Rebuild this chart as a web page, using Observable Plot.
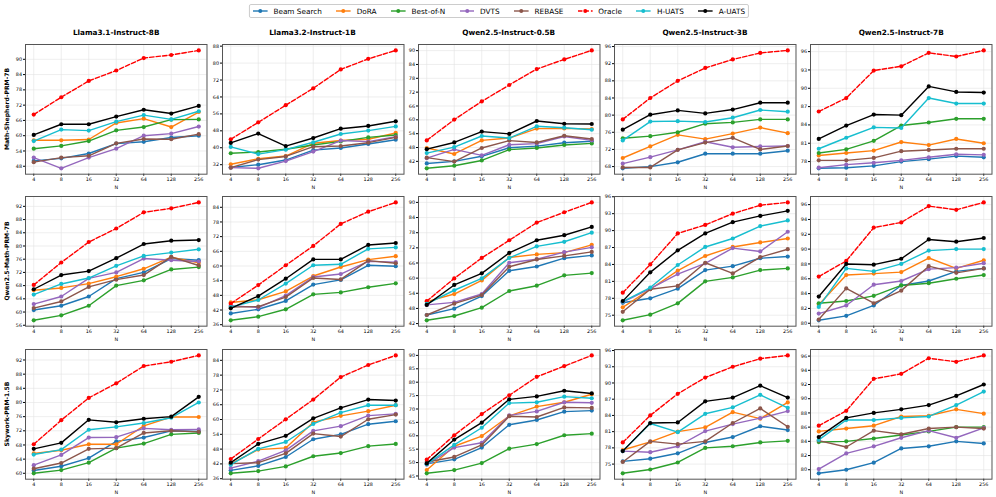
<!DOCTYPE html>
<html>
<head>
<meta charset="utf-8">
<script src="https://cdn.jsdelivr.net/npm/d3@7"></script>
<script src="https://cdn.jsdelivr.net/npm/@observablehq/plot@0.6"></script>
<style>
  html, body { margin: 0; padding: 0; background: #fff; }
  #root { position: relative; width: 996px; height: 497px; overflow: hidden; font-family: "DejaVu Sans", sans-serif; color: #000; }
  .panel { position: absolute; }
  .ctitle { position: absolute; font-weight: bold; font-size: 7.3px; white-space: nowrap; transform: translate(-50%, -50%); }
  .rlabel { position: absolute; font-weight: bold; font-size: 6.1px; white-space: nowrap; transform: translate(-50%, -50%) rotate(-90deg); }
  #legend { position: absolute; top: 4px; left: 499px; transform: translateX(-50%); height: 12px; border: 1px solid #cccccc; border-radius: 2px; display: flex; align-items: center; padding: 0 3px; font-size: 7.3px; white-space: nowrap; background: #fff; }
  .item { display: flex; align-items: center; margin-right: 14.4px; }
  .item:last-child { margin-right: 0; }
  .item svg { margin-right: 5.8px; }
</style>
</head>
<body>
<div id="root"><div id="legend"></div></div>
<script>
// ---------- categories / labels ----------
const models = ["Llama3.1-Instruct-8B", "Llama3.2-Instruct-1B", "Qwen2.5-Instruct-0.5B", "Qwen2.5-Instruct-3B", "Qwen2.5-Instruct-7B"];
const prms = ["Math-Shepherd-PRM-7B", "Qwen2.5-Math-PRM-7B", "Skywork-PRM-1.5B"];
const Ns = [4, 8, 16, 32, 64, 128, 256];
const methods = ["Beam Search", "DoRA", "Best-of-N", "DVTS", "REBASE", "Oracle", "H-UATS", "A-UATS"];
const colors = ["#1f77b4", "#ff7f0e", "#2ca02c", "#9467bd", "#8c564b", "#ff0000", "#17becf", "#000000"];

// ---------- series values: each panel = rows in `methods` order, columns in `Ns` order ----------
// Row 1: Math-Shepherd-PRM-7B
const shepherd_llama8b = [
  [50.1, 51.1, 53.0, 56.9, 57.6, 59.3, 60.0],
  [58.2, 58.2, 58.5, 65.0, 66.7, 63.4, 69.3],
  [54.9, 56.0, 57.9, 62.1, 63.4, 66.3, 66.4],
  [51.4, 47.2, 51.4, 54.9, 60.0, 60.8, 63.6],
  [49.6, 51.4, 52.1, 57.0, 58.7, 58.6, 60.6],
  [68.3, 75.1, 81.5, 85.6, 90.5, 91.7, 93.5],
  [57.9, 62.4, 62.0, 65.5, 68.1, 66.4, 69.6],
  [60.3, 64.5, 64.5, 67.5, 70.2, 68.7, 71.7]
];
const shepherd_llama1b = [
  [30.7, 32.0, 34.2, 38.9, 39.9, 41.8, 43.8],
  [32.2, 34.8, 36.1, 42.1, 43.4, 44.0, 47.0],
  [37.4, 38.0, 39.3, 41.3, 43.0, 44.9, 46.0],
  [30.6, 30.3, 33.7, 38.2, 43.4, 42.9, 45.2],
  [30.6, 34.4, 35.9, 40.5, 40.8, 42.4, 44.9],
  [44.0, 52.0, 60.1, 68.1, 77.0, 82.0, 86.0],
  [40.4, 37.0, 39.1, 42.6, 46.5, 48.1, 50.1],
  [42.3, 46.7, 40.8, 44.6, 49.0, 50.3, 52.5]
];
const shepherd_qwen05b = [
  [41.1, 42.0, 44.2, 47.9, 48.6, 50.1, 50.7],
  [47.8, 45.2, 51.1, 52.1, 56.2, 56.3, 56.0],
  [39.0, 40.1, 42.4, 47.1, 47.8, 49.1, 49.8],
  [43.4, 47.2, 44.6, 49.2, 49.7, 52.8, 51.1],
  [43.6, 41.9, 47.8, 51.0, 50.2, 53.1, 51.7],
  [51.1, 60.1, 68.0, 75.1, 82.0, 86.2, 90.1],
  [45.6, 48.2, 53.0, 52.1, 57.2, 56.6, 55.7],
  [47.3, 50.2, 54.9, 53.9, 59.5, 58.3, 58.2]
];
const shepherd_qwen3b = [
  [67.6, 68.0, 69.0, 71.0, 71.0, 71.0, 71.7],
  [70.0, 72.7, 75.4, 74.4, 75.7, 77.1, 75.8],
  [74.6, 75.1, 76.0, 78.0, 78.3, 79.0, 79.0],
  [68.7, 70.2, 71.9, 73.8, 72.5, 72.7, 72.8],
  [67.8, 67.8, 71.9, 73.6, 74.7, 72.0, 72.8],
  [79.0, 84.0, 88.0, 91.0, 93.0, 94.5, 95.1],
  [74.1, 78.5, 78.6, 78.4, 79.4, 81.2, 80.8],
  [76.6, 80.1, 81.1, 80.4, 81.3, 82.9, 82.9]
];
const shepherd_qwen7b = [
  [76.9, 77.0, 77.3, 78.0, 78.4, 78.9, 78.7],
  [79.0, 79.4, 79.8, 81.2, 80.7, 81.7, 81.0],
  [79.4, 80.0, 81.4, 83.9, 84.4, 85.0, 85.0],
  [77.0, 77.5, 77.8, 78.2, 78.7, 79.2, 79.1],
  [78.2, 78.2, 78.6, 79.7, 79.9, 80.1, 80.1],
  [86.2, 88.4, 92.9, 93.6, 95.8, 95.2, 96.2],
  [80.1, 81.9, 83.6, 83.5, 88.4, 87.5, 87.5],
  [81.7, 83.9, 85.7, 85.6, 90.3, 89.4, 89.3]
];
// Row 2: Qwen2.5-Math-PRM-7B
const qprm_llama8b = [
  [60.6, 61.9, 64.7, 70.1, 72.0, 76.2, 75.7],
  [66.6, 67.3, 68.6, 70.7, 73.1, 76.6, 74.9],
  [57.5, 59.0, 61.9, 68.0, 69.6, 72.9, 73.6],
  [62.4, 64.7, 70.2, 72.0, 76.2, 75.7, 75.3],
  [61.2, 63.2, 67.6, 69.8, 71.2, 76.7, 74.1],
  [68.2, 75.0, 81.2, 85.3, 90.2, 91.4, 93.2],
  [65.3, 68.5, 70.3, 74.0, 77.0, 78.0, 79.0],
  [66.9, 71.2, 72.4, 76.3, 80.6, 81.6, 81.8]
];
const qprm_llama1b = [
  [40.6, 42.3, 45.7, 52.4, 54.3, 60.3, 59.9],
  [45.1, 46.2, 49.6, 55.9, 59.6, 62.6, 64.0],
  [37.8, 39.3, 42.3, 48.4, 49.2, 51.3, 52.9],
  [43.8, 43.0, 47.9, 55.5, 56.7, 61.9, 61.6],
  [43.2, 43.4, 47.3, 55.1, 54.5, 62.2, 61.1],
  [44.6, 52.2, 60.3, 68.2, 77.2, 82.2, 86.0],
  [43.2, 46.1, 52.8, 60.3, 60.7, 67.0, 67.6],
  [42.7, 47.7, 54.8, 62.7, 62.7, 68.6, 69.4]
];
const qprm_qwen05b = [
  [45.4, 47.9, 52.9, 62.9, 64.6, 67.9, 69.0],
  [50.7, 53.7, 59.1, 68.2, 69.4, 70.1, 73.2],
  [43.3, 45.0, 48.3, 54.9, 57.0, 61.1, 62.0],
  [49.4, 50.4, 53.7, 66.1, 67.5, 70.3, 72.2],
  [45.4, 49.9, 53.3, 64.5, 67.4, 68.8, 70.4],
  [50.9, 59.9, 68.0, 75.0, 82.0, 86.1, 90.0],
  [49.8, 55.2, 59.9, 68.0, 72.6, 74.4, 78.0],
  [49.4, 57.3, 61.9, 70.0, 75.0, 77.0, 80.3]
];
const qprm_qwen3b = [
  [77.2, 78.0, 79.7, 83.0, 83.7, 85.1, 85.4],
  [76.4, 79.6, 82.9, 85.5, 87.1, 87.9, 88.6],
  [74.1, 75.1, 77.1, 81.0, 81.7, 83.0, 83.3],
  [77.3, 79.7, 82.3, 84.2, 86.9, 86.3, 89.8],
  [75.6, 79.6, 80.2, 84.3, 82.4, 85.3, 86.7],
  [79.0, 84.0, 89.5, 91.0, 93.0, 94.5, 95.0],
  [77.4, 79.9, 83.9, 87.1, 88.6, 90.8, 91.8],
  [77.5, 82.6, 86.5, 89.5, 91.5, 92.6, 93.5]
];
const qprm_qwen7b = [
  [80.4, 81.0, 82.4, 85.1, 85.7, 87.0, 87.4],
  [82.5, 86.5, 86.7, 86.9, 88.8, 87.4, 88.5],
  [82.7, 83.0, 83.7, 85.1, 85.4, 86.0, 86.5],
  [81.3, 82.4, 85.2, 85.7, 87.3, 87.5, 88.1],
  [80.5, 84.7, 82.7, 84.4, 87.7, 86.8, 87.4],
  [86.3, 88.4, 92.9, 93.6, 95.8, 95.3, 96.3],
  [82.2, 87.4, 87.0, 88.0, 89.8, 90.0, 90.0],
  [83.6, 88.0, 87.9, 88.7, 91.3, 91.0, 91.5]
];
// Row 3: Skywork-PRM-1.5B
const sky_llama8b = [
  [60.8, 62.0, 64.3, 69.0, 70.1, 72.0, 71.8],
  [65.6, 66.5, 68.2, 68.2, 73.4, 75.9, 75.9],
  [60.0, 60.9, 63.0, 67.1, 68.4, 71.0, 71.4],
  [62.3, 65.2, 70.1, 70.2, 72.7, 72.3, 72.4],
  [61.3, 62.9, 66.9, 67.1, 71.4, 72.0, 71.7],
  [68.2, 75.0, 81.3, 85.4, 90.3, 91.5, 93.3],
  [65.3, 66.7, 72.3, 73.1, 74.2, 75.7, 80.0],
  [66.9, 68.6, 75.1, 74.4, 75.4, 76.0, 81.6]
];
const sky_llama1b = [
  [39.4, 41.2, 44.8, 52.0, 54.0, 58.1, 59.3],
  [42.0, 47.8, 48.5, 58.9, 61.5, 63.4, 65.8],
  [38.2, 39.1, 41.0, 45.1, 46.4, 49.2, 50.1],
  [40.3, 43.1, 47.5, 55.4, 57.3, 61.6, 62.3],
  [42.1, 42.5, 46.3, 54.3, 53.1, 60.1, 62.0],
  [44.0, 52.1, 60.1, 68.1, 77.2, 82.1, 86.0],
  [41.7, 48.1, 50.9, 58.2, 62.8, 65.8, 65.8],
  [42.5, 50.1, 53.4, 60.5, 64.7, 68.1, 67.7]
];
const sky_qwen05b = [
  [49.5, 51.2, 55.6, 64.1, 65.9, 69.0, 69.4],
  [47.2, 56.1, 59.9, 67.4, 70.9, 72.5, 75.5],
  [46.0, 47.2, 49.8, 55.2, 56.9, 60.2, 60.8],
  [49.2, 55.6, 57.4, 67.6, 69.1, 72.5, 72.3],
  [50.2, 52.1, 56.6, 67.3, 67.0, 70.6, 70.4],
  [51.1, 60.2, 68.1, 75.1, 82.0, 86.0, 90.0],
  [49.4, 56.6, 63.0, 72.2, 72.5, 74.6, 74.0],
  [49.7, 58.6, 64.9, 73.6, 74.7, 76.8, 75.8]
];
const sky_qwen3b = [
  [75.5, 76.0, 77.0, 79.0, 80.0, 82.0, 81.3],
  [77.6, 79.1, 81.0, 81.8, 84.6, 83.4, 86.4],
  [73.3, 74.0, 75.3, 78.0, 78.3, 79.0, 79.3],
  [77.4, 77.2, 78.3, 81.1, 82.4, 83.5, 84.8],
  [75.4, 79.2, 78.7, 79.2, 82.6, 85.3, 81.9],
  [79.0, 84.0, 88.0, 91.0, 93.0, 94.5, 95.1],
  [77.4, 82.5, 80.9, 84.3, 85.5, 87.8, 85.4],
  [77.4, 82.6, 82.7, 86.6, 87.3, 89.5, 87.3]
];
const sky_qwen7b = [
  [79.5, 80.0, 81.0, 83.0, 83.3, 84.0, 83.7],
  [85.4, 85.8, 86.2, 87.5, 87.6, 88.5, 87.9],
  [83.9, 84.0, 84.4, 84.9, 85.4, 86.0, 86.0],
  [80.1, 82.3, 83.3, 84.5, 85.5, 84.5, 85.9],
  [84.1, 83.2, 85.5, 85.0, 85.8, 86.0, 85.8],
  [86.2, 88.3, 92.8, 93.5, 95.7, 95.2, 96.1],
  [84.2, 87.0, 87.0, 87.3, 87.5, 89.1, 91.0],
  [84.6, 87.3, 88.0, 88.5, 89.1, 90.4, 92.0]
];

// ---------- y tick labels per panel ----------
const yTicksShepherd = [
  [48, 54, 60, 66, 72, 78, 84, 90],
  [32, 40, 48, 56, 64, 72, 80, 88],
  [42, 48, 54, 60, 66, 72, 78, 84, 90],
  [68, 72, 76, 80, 84, 88, 92, 96],
  [78, 81, 84, 87, 90, 93, 96]
];
const yTicksQprm = [
  [56, 60, 64, 68, 72, 76, 80, 84, 88, 92],
  [36, 42, 48, 54, 60, 66, 72, 78, 84],
  [42, 48, 54, 60, 66, 72, 78, 84, 90],
  [75, 78, 81, 84, 87, 90, 93, 96],
  [80, 82, 84, 86, 88, 90, 92, 94, 96]
];
const yTicksSky = [
  [60, 64, 68, 72, 76, 80, 84, 88, 92],
  [36, 42, 48, 54, 60, 66, 72, 78, 84],
  [45, 50, 55, 60, 65, 70, 75, 80, 85, 90],
  [75, 78, 81, 84, 87, 90, 93, 96],
  [80, 82, 84, 86, 88, 90, 92, 94, 96]
];

const panelRows = [
  [shepherd_llama8b, shepherd_llama1b, shepherd_qwen05b, shepherd_qwen3b, shepherd_qwen7b],
  [qprm_llama8b, qprm_llama1b, qprm_qwen05b, qprm_qwen3b, qprm_qwen7b],
  [sky_llama8b, sky_llama1b, sky_qwen05b, sky_qwen3b, sky_qwen7b]
];
const tickRows = [yTicksShepherd, yTicksQprm, yTicksSky];

// ---------- layout ----------
const W = 181.5, H = 129.7;
const mL = 22, mR = 4, mT = 4, mB = 20;
const colLefts = [25.45, 221.7, 417.95, 614.2, 810.45];
const rowTops = [44.2, 196.4, 348.8];
const root = document.getElementById("root");

// legend
const legend = document.getElementById("legend");
methods.forEach((m, i) => {
  const it = document.createElement("div");
  it.className = "item";
  const dash = m === "Oracle" ? ' stroke-dasharray="4.5,2"' : "";
  it.innerHTML = `<svg width="14.7" height="8" viewBox="0 0 14.7 8"><line x1="0" y1="4" x2="14.7" y2="4" stroke="${colors[i]}" stroke-width="1.4"${dash}/><circle cx="7.35" cy="4" r="2" fill="${colors[i]}"/></svg><span>${m}</span>`;
  legend.appendChild(it);
});

// column titles
models.forEach((m, c) => {
  const d = document.createElement("div");
  d.className = "ctitle";
  d.style.left = (colLefts[c] + W / 2) + "px";
  d.style.top = "32.3px";
  d.textContent = m;
  root.appendChild(d);
});
// row labels
prms.forEach((p, r) => {
  const d = document.createElement("div");
  d.className = "rlabel";
  d.style.left = "5.8px";
  d.style.top = (rowTops[r] + H / 2) + "px";
  d.textContent = p;
  root.appendChild(d);
});

// panels
panelRows.forEach((row, r) => {
  row.forEach((panel, c) => {
    const table = methods.flatMap((m, i) => Ns.map((n, j) => ({ method: m, N: n, value: panel[i][j] })));
    const vals = table.map(d => d.value);
    const lo = d3.min(vals), hi = d3.max(vals), pad = (hi - lo) * 0.05;
    const yt = tickRows[r][c];
    const marks = [
      Plot.gridX(Ns, { stroke: "#e3e3e3", strokeOpacity: 1, strokeWidth: 0.6 }),
      Plot.gridY(yt, { stroke: "#e3e3e3", strokeOpacity: 1, strokeWidth: 0.6 }),
      Plot.axisX({ ticks: Ns, tickFormat: d => String(d), tickSize: 2, tickPadding: 1.5, label: "N", labelAnchor: "center", labelArrow: "none", labelOffset: 15 }),
      Plot.axisY({ ticks: yt, tickFormat: d => String(d), tickSize: 2, tickPadding: 1.5, label: null })
    ];
    methods.forEach((m, i) => {
      const sub = table.filter(d => d.method === m);
      marks.push(Plot.line(sub, { x: "N", y: "value", stroke: colors[i], strokeWidth: 1.4, strokeDasharray: m === "Oracle" ? "4.5,2" : null }));
      marks.push(Plot.dot(sub, { x: "N", y: "value", r: 2.1, fill: colors[i], stroke: "none" }));
    });
    marks.push(Plot.frame({ stroke: "#555", strokeWidth: 1 }));
    const svg = Plot.plot({
      width: W + mL + mR,
      height: H + mT + mB,
      marginLeft: mL, marginRight: mR, marginTop: mT, marginBottom: mB,
      style: { fontSize: "4.9px", fontFamily: "DejaVu Sans", background: "transparent", overflow: "visible" },
      x: { type: "log", base: 2, domain: [4, 256], inset: 8.25 },
      y: { domain: [lo - pad, hi + pad] },
      marks
    });
    svg.classList.add("panel");
    svg.style.position = "absolute";
    svg.style.left = (colLefts[c] - mL) + "px";
    svg.style.top = (rowTops[r] - mT) + "px";
    root.appendChild(svg);
  });
});
</script>
</body>
</html>
